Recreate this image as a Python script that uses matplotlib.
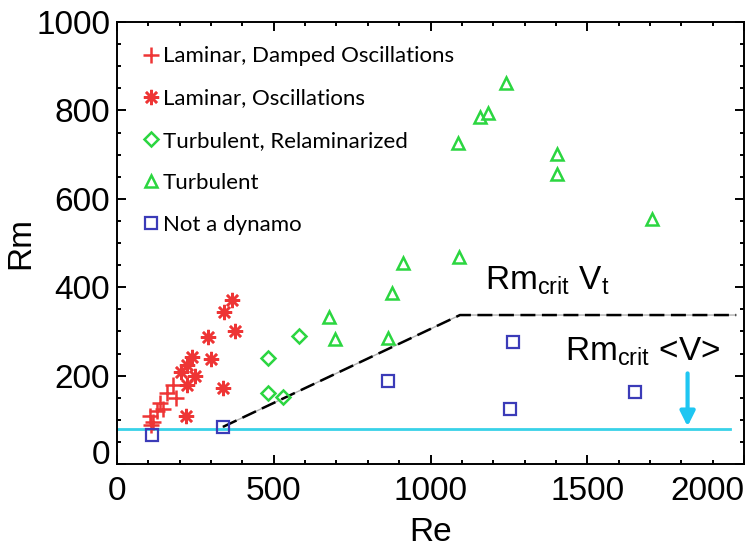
import matplotlib
matplotlib.use('Agg')
import matplotlib.pyplot as plt

# data
damped_re = [179, 159, 188, 137, 147, 128, 105, 115, 110]
damped_rm = [179, 161, 149, 138, 124, 120, 109, 95, 88]

osc_re = [367, 341, 376, 290, 300, 239, 223, 204, 249, 223, 338, 220]
osc_rm = [371, 344, 301, 287, 238, 242, 224, 208, 199, 179, 172, 109]

relam_re = [482, 581, 482, 530]
relam_rm = [240, 290, 161, 152]

turb_re = [676, 695, 864, 877, 912, 1091, 1088, 1158, 1183, 1241, 1404, 1404, 1707]
turb_rm = [333, 283, 285, 387, 455, 468, 726, 785, 794, 862, 701, 656, 554]

nodyn_re = [112, 338, 864, 1263, 1254, 1652]
nodyn_rm = [66, 84, 188, 276, 124, 163]

# critical Rm curves
vt_re = [338, 1094, 1975]
vt_rm = [84, 337, 337]
vmean_re = [0, 1955]
vmean_rm = [79, 79]
arrow_re = 1820
arrow_rm = [205, 85]

RED = '#ee3535'
GREEN = '#2bd640'
BLUE = '#3b3bb8'
CYAN = '#38d2e8'

plt.rcParams['font.family'] = ['Liberation Sans', 'DejaVu Sans']
plt.rcParams['mathtext.fontset'] = 'custom'
plt.rcParams['mathtext.rm'] = 'Liberation Sans'
plt.rcParams['mathtext.it'] = 'Liberation Sans'

fig = plt.figure(figsize=(7.53, 5.49), dpi=100)
ax = fig.add_axes([117/753, 1 - 464/549, 627/753, 442/549])

# threshold lines
ax.plot(vmean_re, vmean_rm, color=CYAN, lw=2, zorder=2)
ax.plot(vt_re, vt_rm, color='#b0b0b0', lw=1.0, zorder=2)
ax.plot(vt_re, vt_rm, color='black', lw=1.8, dashes=(6, 2.6), zorder=2)
ax.annotate('', xy=(arrow_re, arrow_rm[1]), xytext=(arrow_re, arrow_rm[0]),
            arrowprops=dict(arrowstyle='-|>', color='#1ec6f2', lw=3,
                            mutation_scale=22, shrinkA=0, shrinkB=0))

# data points
ax.plot(damped_re, damped_rm, ls='none', marker='+', ms=11, mew=1.8,
        color=RED, label='Laminar, Damped Oscillations', zorder=3)
ax.plot(osc_re, osc_rm, ls='none', marker=(8, 2, 0), ms=11, mew=1.8,
        color=RED, label='Laminar, Oscillations', zorder=3)
ax.plot(relam_re, relam_rm, ls='none', marker='D', ms=7, mew=1.8,
        mfc='none', mec=GREEN, label='Turbulent, Relaminarized', zorder=3)
ax.plot(turb_re, turb_rm, ls='none', marker='^', ms=9, mew=1.8,
        mfc='none', mec=GREEN, label='Turbulent', zorder=3)
ax.plot(nodyn_re, nodyn_rm, ls='none', marker='s', ms=9, mew=1.6,
        mfc='none', mec=BLUE, label='Not a dynamo', zorder=3)

ax.text(1174, 394, r'Rm$_{\mathrm{crit}}$ V$_{\mathrm{t}}$', fontsize=24,
        ha='left', va='baseline')
ax.text(1429, 235, r'Rm$_{\mathrm{crit}}$ <V>', fontsize=24,
        ha='left', va='baseline')

ax.set_xlim(0, 2000)
ax.set_ylim(0, 1000)
ax.set_xticks([0, 500, 1000, 1500, 2000])
ax.set_xticks(range(0, 2001, 100), minor=True)
ax.set_yticks([0, 200, 400, 600, 800, 1000])
ax.set_yticks(range(0, 1001, 50), minor=True)
ax.tick_params(which='both', direction='in', top=True, right=True,
               width=1.4, labelsize=24)
ax.tick_params(which='major', length=6.5)
ax.tick_params(which='minor', length=3.2)
ax.tick_params(axis='x', pad=9)
ax.tick_params(axis='y', pad=5)
for s in ax.spines.values():
    s.set_linewidth(1.4)

ax.get_xticklabels()[-1].set_horizontalalignment('right')
ax.get_yticklabels()[0].set_verticalalignment('baseline')

ax.set_xlabel('Re', fontsize=24, labelpad=7)
ax.set_ylabel('Rm', fontsize=24, labelpad=0)

leg = ax.legend(loc='upper left', bbox_to_anchor=(0.043, 0.945), frameon=False,
                borderaxespad=0, borderpad=0, handlelength=0.6,
                handletextpad=0.25, labelspacing=1.0,
                prop={'family': 'Lato', 'size': 16})

plt.savefig('out.png', dpi=100)
